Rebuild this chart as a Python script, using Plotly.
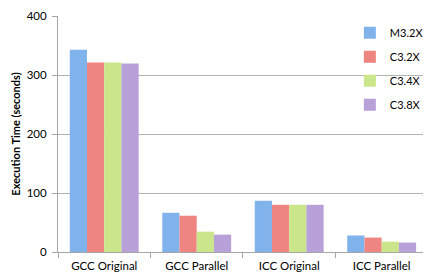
import plotly.graph_objects as go

categories = ["GCC Original", "GCC Parallel", "ICC Original", "ICC Parallel"]
series_names = ["M3.2X", "C3.2X", "C3.4X", "C3.8X"]
m32x = [343, 66.5, 87, 28]
c32x = [321, 61.5, 80, 24.5]
c34x = [321, 34.5, 80, 17.5]
c38x = [319.5, 29.5, 80, 16]
y_ticks = [0, 100, 200, 300, 400]

series_values = [m32x, c32x, c34x, c38x]
colors = ["#80b2ec", "#ee8580", "#cbe58a", "#b8a0d8"]

fig = go.Figure()
for name, vals, col in zip(series_names, series_values, colors):
    fig.add_trace(go.Bar(
        x=categories, y=vals, name=name, legendgroup=name,
        marker=dict(color=col, line=dict(width=0)),
    ))

font_family = "Lato, 'Open Sans', sans-serif"
fig.update_layout(
    width=429, height=275,
    margin=dict(l=58, r=0, t=16, b=23),
    paper_bgcolor="white", plot_bgcolor="white",
    barmode="group", bargap=0.255, bargroupgap=0,
    font=dict(family=font_family, size=11, color="#000000"),
    showlegend=True,
    legend=dict(
        x=1.016, y=0.99, xanchor="right", yanchor="top",
        bgcolor="rgba(255,255,255,0)",
        font=dict(size=11, color="#000000"),
        tracegroupgap=5, itemwidth=30,
    ),
    xaxis=dict(
        range=[-0.5, 3.447],
        showline=True, linecolor="#a6a6a6", linewidth=1,
        ticks="outside", tickson="boundaries", ticklen=5, tickcolor="#a6a6a6",
        ticklabelstandoff=3,
        showgrid=False, tickfont=dict(size=11.5),
    ),
    yaxis=dict(
        range=[0, 400], tickvals=y_ticks,
        showline=True, linecolor="#a6a6a6", linewidth=1,
        ticks="outside", ticklen=5, tickcolor="#a6a6a6",
        ticklabelstandoff=3,
        showgrid=True, gridcolor="#b3b3b3", gridwidth=1,
        zeroline=False,
        tickfont=dict(size=11.5),
        title=dict(text="<b>Execution Time (seconds)</b>", font=dict(size=11), standoff=3),
    ),
)

fig.write_html("out.html", config={"displayModeBar": False},
               post_script="document.body.style.margin='0';")
